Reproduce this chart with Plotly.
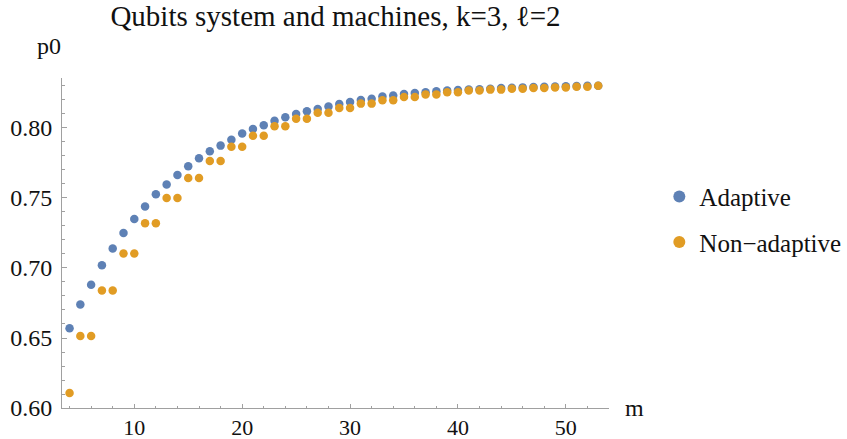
import plotly.graph_objects as go

m_values = [4, 5, 6, 7, 8, 9, 10, 11, 12, 13, 14, 15, 16, 17, 18, 19, 20, 21, 22, 23,
            24, 25, 26, 27, 28, 29, 30, 31, 32, 33, 34, 35, 36, 37, 38, 39, 40, 41, 42, 43,
            44, 45, 46, 47, 48, 49, 50, 51, 52, 53]

adaptive = [0.657, 0.674, 0.688, 0.702, 0.714, 0.725, 0.735, 0.744, 0.7526, 0.7597,
            0.7664, 0.7726, 0.7784, 0.7833, 0.7874, 0.7916, 0.796, 0.7993, 0.8019, 0.8052,
            0.8076, 0.810, 0.8119, 0.8136, 0.8154, 0.8171, 0.8186, 0.820, 0.8209, 0.8224,
            0.8232, 0.8243, 0.825, 0.8256, 0.8262, 0.8267, 0.8271, 0.8274, 0.8277, 0.828,
            0.8285, 0.8287, 0.829, 0.8292, 0.8294, 0.8296, 0.8298, 0.8299, 0.8301, 0.8302]

non_adaptive = [0.6107, 0.6514, 0.6514, 0.684, 0.684, 0.7104, 0.7104, 0.7319, 0.7319, 0.750,
                0.750, 0.7643, 0.7643, 0.7765, 0.7765, 0.7866, 0.7866, 0.7945, 0.7945, 0.8012,
                0.8012, 0.8066, 0.8066, 0.8109, 0.8109, 0.8143, 0.8143, 0.8174, 0.8174, 0.8198,
                0.8198, 0.8221, 0.8221, 0.824, 0.824, 0.8255, 0.8255, 0.8267, 0.8267, 0.8274,
                0.8274, 0.828, 0.828, 0.8286, 0.8286, 0.829, 0.829, 0.8295, 0.8295, 0.8301]

series_names = ["Adaptive", "Non\u2212adaptive"]
series_colors = ["rgb(94,129,181)", "rgb(225,156,36)"]

FONT = "Liberation Serif, DejaVu Serif, Noto Serif, serif"
AXIS_COLOR = "#a0a0a0"
TEXT_COLOR = "#111111"

fig = go.Figure()
for name, ys, col in zip(series_names, [adaptive, non_adaptive], series_colors):
    fig.add_trace(go.Scatter(
        x=m_values, y=ys, mode="markers", name=name, legendgroup=name,
        marker=dict(color=col, size=8.5, line=dict(width=0)),
    ))

fig.update_layout(
    width=847, height=439,
    margin=dict(l=62, r=237.5, t=78, b=31, autoexpand=False),
    paper_bgcolor="white", plot_bgcolor="white",
    font=dict(family=FONT, size=23, color=TEXT_COLOR),
    title=dict(text="Qubits system and machines, k=3, \u2113=2",
               x=0.5, xref="paper", xanchor="center",
               y=1 - 16 / 439, yref="container", yanchor="middle",
               font=dict(family=FONT, size=29, color=TEXT_COLOR)),
    showlegend=True,
    legend=dict(x=1.092, xanchor="left", y=0.71, yanchor="top",
                font=dict(family=FONT, size=25, color=TEXT_COLOR),
                tracegroupgap=10, itemsizing="constant",
                bgcolor="rgba(0,0,0,0)"),
    xaxis=dict(range=[3.3, 54.0], showgrid=False, zeroline=False,
               showline=True, linecolor=AXIS_COLOR, linewidth=1,
               tick0=0, dtick=10, ticks="inside", ticklen=4.5, tickcolor=AXIS_COLOR,
               tickfont=dict(family=FONT, size=22, color=TEXT_COLOR),
               ticklabelstandoff=0,
               minor=dict(dtick=2, tick0=0, ticks="inside", ticklen=2.5,
                          tickcolor=AXIS_COLOR, showgrid=False)),
    yaxis=dict(range=[0.60, 0.8357], showgrid=False, zeroline=False,
               showline=True, linecolor=AXIS_COLOR, linewidth=1,
               tick0=0.6, dtick=0.05, tickformat=".2f",
               ticks="inside", ticklen=4.5, tickcolor=AXIS_COLOR,
               tickfont=dict(family=FONT, size=24, color=TEXT_COLOR),
               ticklabelstandoff=4,
               minor=dict(dtick=0.01, tick0=0.6, ticks="inside", ticklen=2.5,
                          tickcolor=AXIS_COLOR, showgrid=False)),
    annotations=[
        dict(text="p0", x=0, xref="paper", xanchor="right", xshift=1,
             y=1, yref="paper", yanchor="middle", yshift=32, showarrow=False,
             font=dict(family=FONT, size=24, color=TEXT_COLOR)),
        dict(text="m", x=1, xref="paper", xanchor="left", xshift=14,
             y=0, yref="paper", yanchor="middle", yshift=0, showarrow=False,
             font=dict(family=FONT, size=24, color=TEXT_COLOR)),
    ],
)

fig.write_html("out.html")
